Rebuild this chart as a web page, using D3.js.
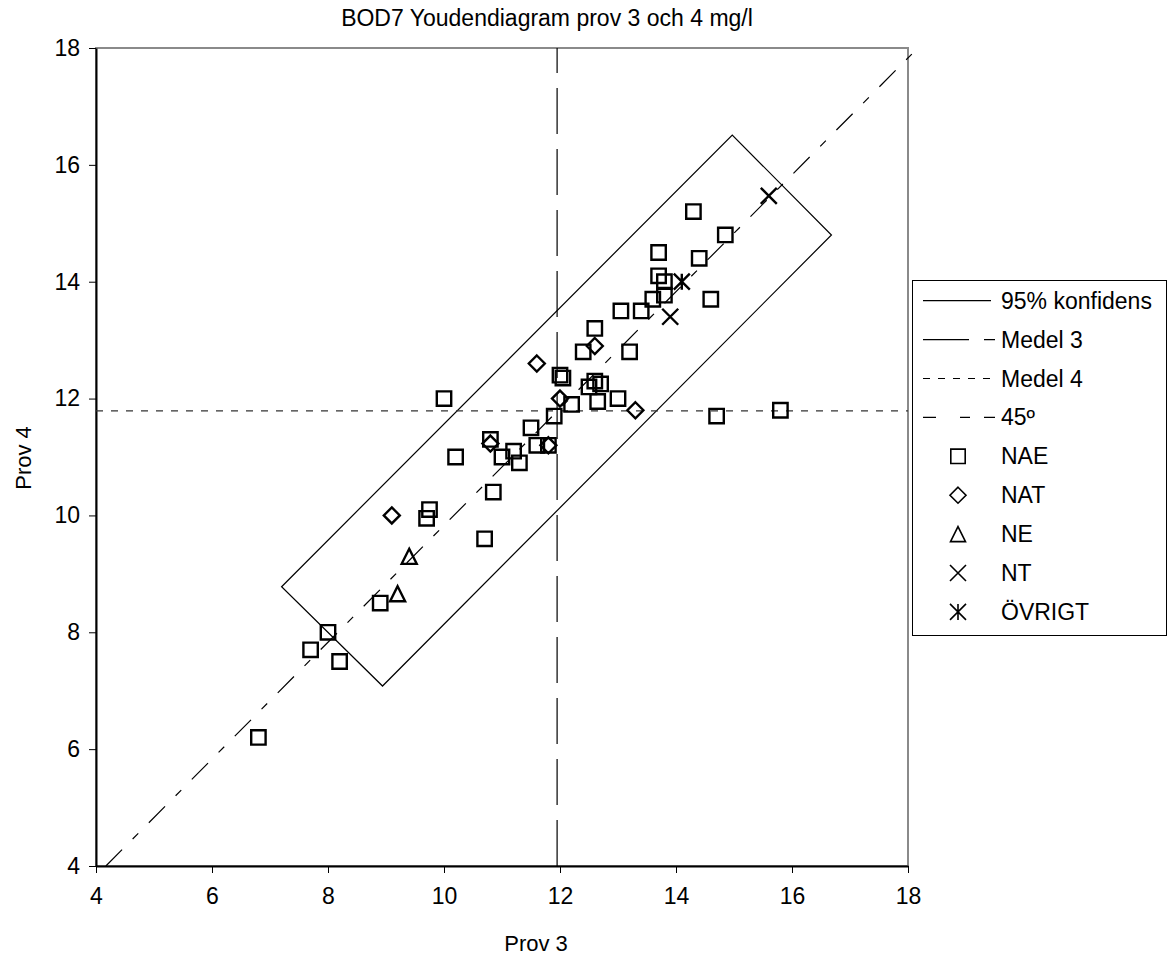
<!DOCTYPE html>
<html>
<head>
<meta charset="utf-8">
<script src="https://cdn.jsdelivr.net/npm/d3@7"></script>
<style>
    body { margin: 0; background: #fff; }
    svg { display: block; font-family: "Liberation Sans", Arial, sans-serif; }
</style>
</head>
<body>
<svg id="chart" width="1168" height="960"></svg>
<script>
const chartTitle = "BOD7 Youdendiagram prov 3 och 4 mg/l";
const xTitle = "Prov 3";
const yTitle = "Prov 4";
const xTicks = [4, 6, 8, 10, 12, 14, 16, 18];
const yTicks = [4, 6, 8, 10, 12, 14, 16, 18];

const medel3 = 11.95;
const medel4 = 11.79;
const line45 = [[4.17, 4.0], [18.19, 18.02]];
const konfidens = [[7.20, 8.78], [14.97, 16.51], [16.68, 14.80], [8.94, 7.08]];

const naePoints = [
    [6.8, 6.2], [8.0, 8.0], [7.7, 7.7], [8.2, 7.5], [8.9, 8.5], [9.75, 10.1], [9.7, 9.95],
    [10.0, 12.0], [10.2, 11.0], [10.8, 11.3], [11.0, 11.0], [11.2, 11.1], [11.3, 10.9],
    [10.85, 10.4], [10.7, 9.6], [11.5, 11.5], [11.6, 11.2], [11.8, 11.2], [11.9, 11.7],
    [12.2, 11.9], [12.0, 12.4], [12.05, 12.35], [12.6, 13.2], [12.4, 12.8], [13.2, 12.8],
    [12.5, 12.2], [12.6, 12.3], [12.7, 12.25], [12.65, 11.95], [13.0, 12.0], [14.3, 15.2],
    [14.85, 14.8], [13.7, 14.5], [14.4, 14.4], [13.7, 14.1], [13.8, 14.0], [13.8, 13.77],
    [13.6, 13.7], [14.6, 13.7], [13.05, 13.5], [13.4, 13.5], [14.7, 11.7], [15.8, 11.8]
];
const natPoints = [[9.1, 10.0], [10.8, 11.23], [11.8, 11.2], [12.0, 12.0], [11.6, 12.6], [12.6, 12.9], [13.3, 11.8]];
const nePoints = [[9.2, 8.66], [9.4, 9.3]];
const ntPoints = [[15.6, 15.47], [13.9, 13.4]];
const ovrigtPoints = [[14.1, 14.0]];

const lineNames = ["95% konfidens", "Medel 3", "Medel 4", "45º"];
const seriesNames = ["NAE", "NAT", "NE", "NT", "ÖVRIGT"];

class d3_youden {
    constructor(svgel) {
        this.svg = d3.select(svgel);
        this.margin = { top: 48, right: 260, bottom: 94, left: 96 };
        this.width = 1168 - this.margin.left - this.margin.right;
        this.height = 960 - this.margin.top - this.margin.bottom;
        this.x = d3.scaleLinear().domain([4, 18]).range([this.margin.left, this.margin.left + this.width]);
        this.y = d3.scaleLinear().domain([4, 18]).range([this.margin.top + this.height, this.margin.top]);
        this.shapes = {
            "NAE": r => `M${-r},${-r}H${r}V${r}H${-r}Z`,
            "NAT": r => `M0,${-r}L${r},0L0,${r}L${-r},0Z`,
            "NE": r => `M0,${-r}L${r},${r}L${-r},${r}Z`,
            "NT": r => `M${-r},${-r}L${r},${r}M${r},${-r}L${-r},${r}`,
            "ÖVRIGT": r => `M${-r},${-r}L${r},${r}M${r},${-r}L${-r},${r}M0,${-r}V${r}`
        };
        this.sizes = { "NAE": 7.2, "NAT": 8, "NE": 7.5, "NT": 8, "ÖVRIGT": 8 };
        this.dashes = { "95% konfidens": null, "Medel 3": "46,15", "Medel 4": "7,8", "45º": "23,15,8,15" };
        this.rebuild();
    }

    rebuild() {
        const x = this.x, y = this.y, svg = this.svg;
        const x0 = x(4), x1 = x(18), y0 = y(4), y1 = y(18);

        // plot frame
        svg.append("rect")
            .attr("x", x0).attr("y", y1)
            .attr("width", x1 - x0).attr("height", y0 - y1)
            .attr("fill", "none").attr("stroke", "#8a8a8a").attr("stroke-width", 2);

        const xAxis = svg.append("g")
            .attr("transform", `translate(0,${y0})`)
            .call(d3.axisBottom(x).tickValues(xTicks).tickSize(7).tickSizeOuter(0).tickPadding(15));
        const yAxis = svg.append("g")
            .attr("transform", `translate(${x0},0)`)
            .call(d3.axisLeft(y).tickValues(yTicks).tickSize(7).tickSizeOuter(0).tickPadding(9));
        [xAxis, yAxis].forEach(a => {
            a.select(".domain").attr("stroke", "#000").attr("stroke-width", 2);
            a.selectAll(".tick line").attr("stroke", "#000");
            a.selectAll(".tick text").attr("fill", "#000")
                .style("font-size", "23px").style("font-family", "'Liberation Sans', Arial, sans-serif");
        });

        svg.append("text")
            .attr("x", 547).attr("y", 26)
            .attr("text-anchor", "middle").style("font-size", "23px")
            .text(chartTitle);
        svg.append("text")
            .attr("x", 536).attr("y", 951)
            .attr("text-anchor", "middle").style("font-size", "22px")
            .text(xTitle);
        svg.append("text")
            .attr("transform", `translate(31,458) rotate(-90)`)
            .attr("text-anchor", "middle").style("font-size", "22px")
            .text(yTitle);

        const line = d3.line().x(d => x(d[0])).y(d => y(d[1]));
        const refs = svg.append("g").attr("fill", "none").attr("stroke", "#000").attr("stroke-width", 1.2);

        refs.append("path")
            .attr("d", line(konfidens) + "Z");
        refs.append("path")
            .attr("d", line([[medel3, 4], [medel3, 18]]))
            .attr("stroke-dasharray", this.dashes["Medel 3"]);
        refs.append("path")
            .attr("d", line([[4, medel4], [18, medel4]]))
            .attr("stroke", "#333")
            .attr("stroke-dasharray", this.dashes["Medel 4"]);
        refs.append("path")
            .attr("d", line(line45))
            .attr("stroke-dasharray", this.dashes["45º"]);

        const series = [naePoints, natPoints, nePoints, ntPoints, ovrigtPoints];
        const thischart = this;
        seriesNames.forEach((name, i) => {
            svg.append("g").selectAll("path")
                .data(series[i])
                .enter().append("path")
                .attr("transform", d => `translate(${x(d[0])},${y(d[1])})`)
                .attr("d", thischart.shapes[name](thischart.sizes[name]))
                .attr("fill", "none")
                .attr("stroke", "#000")
                .attr("stroke-width", 2.4);
        });

        // legend
        const lg = svg.append("g");
        lg.append("rect")
            .attr("x", 912.5).attr("y", 280.5).attr("width", 1166 - 912).attr("height", 635 - 280)
            .attr("fill", "#fff").attr("stroke", "#000").attr("stroke-width", 1);
        const rowY = i => 300.7 + i * 38.9;
        const items = lineNames.concat(seriesNames);
        items.forEach((name, i) => {
            const ry = rowY(i);
            if (i < lineNames.length) {
                lg.append("line")
                    .attr("x1", 923).attr("x2", name === "95% konfidens" ? 991 : 995)
                    .attr("y1", ry).attr("y2", ry)
                    .attr("stroke", "#000").attr("stroke-width", 1.2)
                    .attr("stroke-dasharray", name === "45º" ? "13,24,10,14,11" : thischart.dashes[name]);
            } else {
                lg.append("path")
                    .attr("transform", `translate(958,${ry})`)
                    .attr("d", thischart.shapes[name](thischart.sizes[name]))
                    .attr("fill", "none").attr("stroke", "#000").attr("stroke-width", 1.6);
            }
            lg.append("text")
                .attr("x", 1001).attr("y", ry).attr("dy", "0.35em")
                .style("font-size", "23px")
                .text(name);
        });
    }
}

new d3_youden(document.getElementById("chart"));
</script>
</body>
</html>
